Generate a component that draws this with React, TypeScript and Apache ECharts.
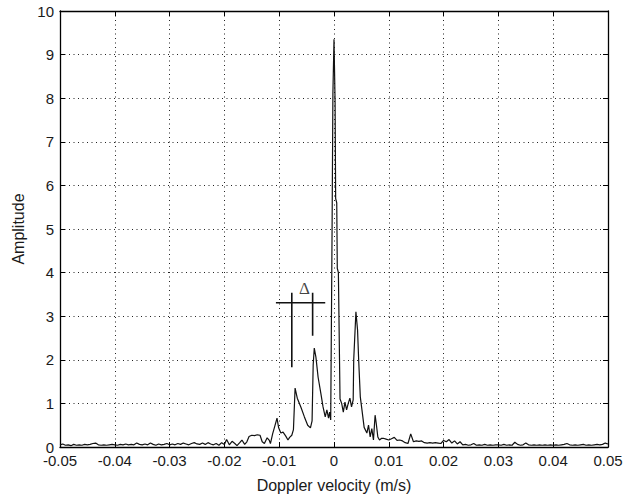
import React, { useEffect, useRef } from "react";
import * as echarts from "echarts";

// Left low-noise part: sampled every 0.0005 m/s starting at -0.05
const LEFT_START = -0.05;
const NOISE_STEP = 0.0005;
const leftNoise = [
  0.05, 0.07, 0.04, 0.05, 0.03, 0.06, 0.04, 0.05, 0.04, 0.06,
  0.05, 0.06, 0.08, 0.09, 0.05, 0.04, 0.05, 0.04, 0.05, 0.06,
  0.05, 0.04, 0.06, 0.05, 0.07, 0.05, 0.06, 0.05, 0.09, 0.06,
  0.05, 0.07, 0.05, 0.09, 0.06, 0.04, 0.07, 0.05, 0.06, 0.08,
  0.05, 0.07, 0.05, 0.08, 0.06, 0.09, 0.07, 0.05, 0.08, 0.10,
  0.07, 0.06, 0.09, 0.06, 0.10, 0.07,
];

// Central part (explicit samples)
const centralVelocity = [
  -0.022, -0.0215, -0.021, -0.0205, -0.02, -0.0196, -0.0191, -0.0186, -0.0181, -0.0177,
  -0.0172, -0.0168, -0.0163, -0.0159, -0.0155, -0.015, -0.0145, -0.014, -0.0135, -0.0131,
  -0.0127, -0.0122, -0.0118, -0.0116, -0.0112, -0.0108, -0.0104, -0.0101, -0.0097, -0.0093,
  -0.0088, -0.0084, -0.0081, -0.0077, -0.0074, -0.0071, -0.0067, -0.006, -0.0054, -0.0048,
  -0.0043, -0.004, -0.0038, -0.0036, -0.0033, -0.0029, -0.0024, -0.002, -0.0016, -0.0013,
  -0.001, -0.0008, -0.0006, -0.00035, -0.0002, 0.0, 0.0002, 0.0003, 0.0005, 0.0006,
  0.0008, 0.0011, 0.0014, 0.0017, 0.002, 0.0023, 0.0026, 0.0029, 0.0032, 0.0035,
  0.0036, 0.004, 0.0043, 0.0045, 0.0048, 0.0051, 0.0055, 0.006, 0.0063, 0.0066,
  0.0069, 0.0072, 0.0075, 0.0077, 0.008, 0.0083, 0.0087,
];
const centralAmplitude = [
  0.05, 0.08, 0.04, 0.1, 0.06, 0.17, 0.05, 0.13, 0.08, 0.03,
  0.1, 0.16, 0.06, 0.12, 0.24, 0.27, 0.26, 0.28, 0.27, 0.12,
  0.08, 0.21, 0.15, 0.08, 0.3, 0.48, 0.66, 0.44, 0.32, 0.34,
  0.25, 0.16, 0.22, 0.27, 0.4, 1.35, 1.12, 0.9, 0.69, 0.5,
  0.44, 0.6, 1.88, 2.27, 2.06, 1.6, 1.23, 0.92, 0.69, 0.85,
  0.66, 0.8, 0.62, 5.0, 8.1, 9.35, 7.9, 5.7, 5.6, 4.1,
  4.0, 1.1, 1.0, 0.8, 1.03, 0.85, 1.0, 1.12, 0.92, 1.08,
  2.0, 3.1, 2.68, 2.0, 1.15, 0.85, 0.45, 0.32, 0.5, 0.23,
  0.42, 0.16, 0.73, 0.55, 0.23, 0.16, 0.2,
];

// Right low-noise part: sampled every 0.0005 m/s starting at 0.009
const RIGHT_START = 0.009;
const rightNoise = [
  0.2, 0.18, 0.16, 0.19, 0.22, 0.15, 0.16, 0.14, 0.1, 0.08,
  0.3, 0.12, 0.14, 0.13, 0.14, 0.1, 0.09, 0.1, 0.09, 0.1,
  0.09, 0.08, 0.15, 0.12, 0.17, 0.09, 0.14, 0.07, 0.12, 0.05,
  0.06, 0.04, 0.05, 0.08, 0.04, 0.05, 0.04, 0.06, 0.04, 0.05,
  0.04, 0.05, 0.05, 0.04, 0.06, 0.04, 0.05, 0.04, 0.11, 0.06,
  0.04, 0.05, 0.09, 0.05, 0.04, 0.05, 0.04, 0.05, 0.04, 0.05,
  0.04, 0.05, 0.04, 0.05, 0.04, 0.05, 0.06, 0.08, 0.05, 0.04,
  0.05, 0.04, 0.05, 0.06, 0.04, 0.05, 0.04, 0.05, 0.06, 0.05,
  0.06, 0.09, 0.07,
];

// Annotation (Δ marker) in data units
const annoHorizontal = [[-0.0106, 3.31], [-0.0016, 3.31]];
const annoVertical1 = [[-0.0077, 3.54], [-0.0077, 1.83]];
const annoVertical2 = [[-0.0039, 3.54], [-0.0039, 2.55]];
const annoLabelPos = [[-0.0054, 3.64]];
const annoLabel = "Δ";

const xTicks = { min: -0.05, max: 0.05, interval: 0.01 };
const yTicks = { min: 0, max: 10, interval: 1 };

export default function App() {
  const ref = useRef<HTMLDivElement>(null);
  useEffect(() => {
    if (!ref.current) return;
    const chart = echarts.init(ref.current, null, { renderer: "svg" });
    const data: number[][] = [];
    leftNoise.forEach((v, i) => data.push([+(LEFT_START + i * NOISE_STEP).toFixed(5), v]));
    centralVelocity.forEach((x, i) => data.push([x, centralAmplitude[i]]));
    rightNoise.forEach((v, i) => data.push([+(RIGHT_START + i * NOISE_STEP).toFixed(5), v]));

    const font = "Liberation Sans, Arial, sans-serif";
    const txt = "#1a1a1a";
    const split = { show: true, lineStyle: { color: "#222", width: 1, type: [1, 3.5] as any } };
    const tick = { show: true, inside: true, length: 5, lineStyle: { color: "#000", width: 1 } };
    const axisLine = { show: true, onZero: false, lineStyle: { color: "#000", width: 1.3 } };

    chart.setOption({
      animation: false,
      backgroundColor: "#fff",
      grid: { left: 60, top: 11, right: 26, bottom: 52, outerBoundsMode: "none", containLabel: false } as any,
      xAxis: [
        {
          type: "value",
          position: "bottom",
          ...xTicks,
          axisLine,
          axisTick: tick,
          splitLine: split,
          axisLabel: {
            color: txt,
            fontFamily: font,
            fontSize: 15,
            margin: 6,
            formatter: (v: number) => (Math.abs(v) < 1e-9 ? "0" : String(+v.toFixed(2))),
          },
          name: "Doppler velocity (m/s)",
          nameLocation: "middle",
          nameGap: 30,
          nameTextStyle: { color: txt, fontFamily: font, fontSize: 16 },
        },
        {
          type: "value",
          position: "top",
          ...xTicks,
          axisLine,
          axisTick: tick,
          axisLabel: { show: false },
          splitLine: { show: false },
        },
      ],
      yAxis: [
        {
          type: "value",
          position: "left",
          ...yTicks,
          axisLine,
          axisTick: tick,
          splitLine: split,
          axisLabel: { color: txt, fontFamily: font, fontSize: 15, margin: 6 },
          name: "Amplitude",
          nameLocation: "middle",
          nameGap: 34,
          nameTextStyle: { color: txt, fontFamily: font, fontSize: 16 },
        },
        {
          type: "value",
          position: "right",
          ...yTicks,
          axisLine,
          axisTick: tick,
          axisLabel: { show: false },
          splitLine: { show: false },
        },
      ],
      series: [
        {
          type: "line",
          data,
          symbol: "none",
          lineStyle: { color: "#111", width: 1.2 },
          silent: true,
        },
        ...[annoHorizontal, annoVertical1, annoVertical2].map((d) => ({
          type: "line",
          data: d,
          symbol: "none",
          lineStyle: { color: "#111", width: 1.6 },
          silent: true,
        })),
        {
          type: "scatter",
          data: annoLabelPos,
          symbolSize: 1,
          itemStyle: { color: "rgba(0,0,0,0)" },
          label: {
            show: true,
            position: "inside",
            formatter: annoLabel,
            color: "#111",
            fontFamily: "Liberation Serif, Times New Roman, serif",
            fontSize: 17,
          },
          silent: true,
        },
      ],
    });
    return () => chart.dispose();
  }, []);
  return <div ref={ref} style={{ width: 634, height: 499, position: "absolute", left: 0, top: 0 }} />;
}
